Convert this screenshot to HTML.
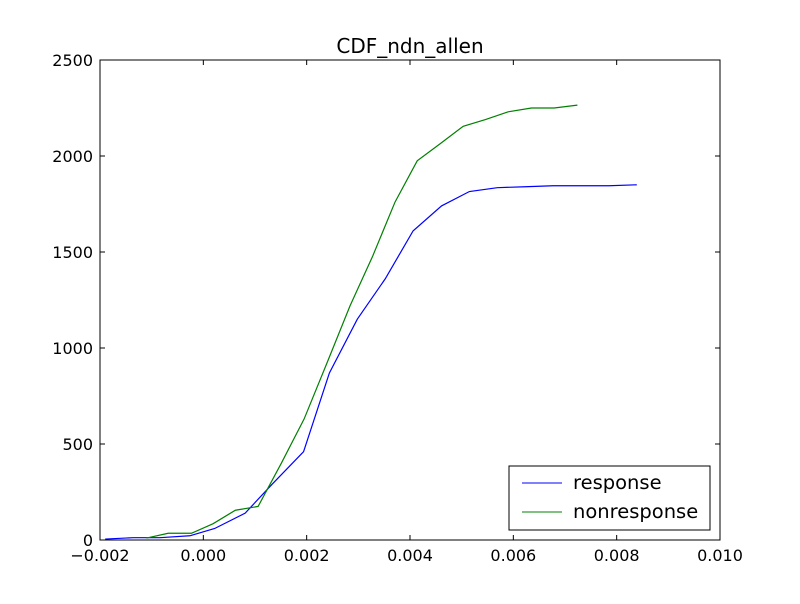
<!DOCTYPE html>
<html><head><meta charset="utf-8"><style>
body{margin:0;background:#fff;font-family:"DejaVu Sans","Liberation Sans",sans-serif}
svg text{font-family:"DejaVu Sans","Liberation Sans",sans-serif;font-size:16px;fill:#000}
</style></head><body>
<svg id="chart" width="800" height="600">
<rect width="800" height="600" fill="#fff"/>
<text x="410" y="53" text-anchor="middle" style="font-size:20px">CDF_ndn_allen</text>
<g id="plot"></g>
<rect x="100" y="60" width="620" height="480" fill="none" stroke="#000" stroke-width="1"/>
<g id="axes"></g>
<g>
<rect x="509" y="466" width="201" height="64" fill="#fff" stroke="#000"/>
<line x1="522" y1="483" x2="562" y2="483" stroke="#0000ff"/>
<text x="573" y="489" style="font-size:19.5px">response</text>
<line x1="522" y1="512" x2="562" y2="512" stroke="#008000"/>
<text x="573" y="518" style="font-size:19.5px">nonresponse</text>
</g>
</svg>
<script>
const xTicks=[-0.002,0,0.002,0.004,0.006,0.008,0.010];
const xTickLabels=["\u22120.002","0.000","0.002","0.004","0.006","0.008","0.010"];
const yTicks=[0,500,1000,1500,2000,2500];
const respX=[-0.0019,-0.00136,-0.00084,-0.00026,0.00022,0.00081,0.00133,0.00194,0.00244,0.00298,0.00352,0.00406,0.00461,0.00515,0.00569,0.00623,0.00677,0.00731,0.00785,0.00839];
const respY=[5,12,12,22,60,140,290,460,870,1150,1360,1610,1740,1815,1835,1840,1845,1845,1845,1850];
const nonX=[-0.0011,-0.00068,-0.00023,0.00019,0.00062,0.00106,0.00151,0.00195,0.00239,0.00284,0.00328,0.00371,0.00414,0.00459,0.00503,0.00546,0.00590,0.00635,0.00679,0.00724];
const nonY=[10,35,35,85,155,175,400,630,920,1220,1480,1760,1975,2065,2155,2190,2230,2250,2250,2265];
const X=v=>100+(v+0.002)/0.012*620, Y=v=>540-v/2500*480;
const NS="http://www.w3.org/2000/svg";
const plot=document.getElementById('plot'), axes=document.getElementById('axes');
function mk(t,a,p){const e=document.createElementNS(NS,t);for(const k in a)e.setAttribute(k,a[k]);p.appendChild(e);return e;}
function line(xs,ys,c,name){
 const e=mk('polyline',{points:xs.map((x,i)=>X(x)+','+Y(ys[i])).join(' '),fill:'none',stroke:c,'stroke-width':1.2},plot);
 
 
}
line(respX,respY,'#0000ff','response-line');
line(nonX,nonY,'#008000','nonresponse-line');
xTicks.forEach((v,i)=>{const x=X(v);
 mk('line',{x1:x,y1:540,x2:x,y2:535,stroke:'#000'},axes);
 mk('line',{x1:x,y1:60,x2:x,y2:65,stroke:'#000'},axes);
 const t=mk('text',{x:x,y:561,'text-anchor':'middle'},axes);t.textContent=xTickLabels[i];
 
 
});
yTicks.forEach(v=>{const y=Y(v);
 mk('line',{x1:100,y1:y,x2:105,y2:y,stroke:'#000'},axes);
 mk('line',{x1:720,y1:y,x2:715,y2:y,stroke:'#000'},axes);
 const t=mk('text',{x:93,y:y+6,'text-anchor':'end'},axes);t.textContent=v;
 
 
});
</script>
</body></html>
